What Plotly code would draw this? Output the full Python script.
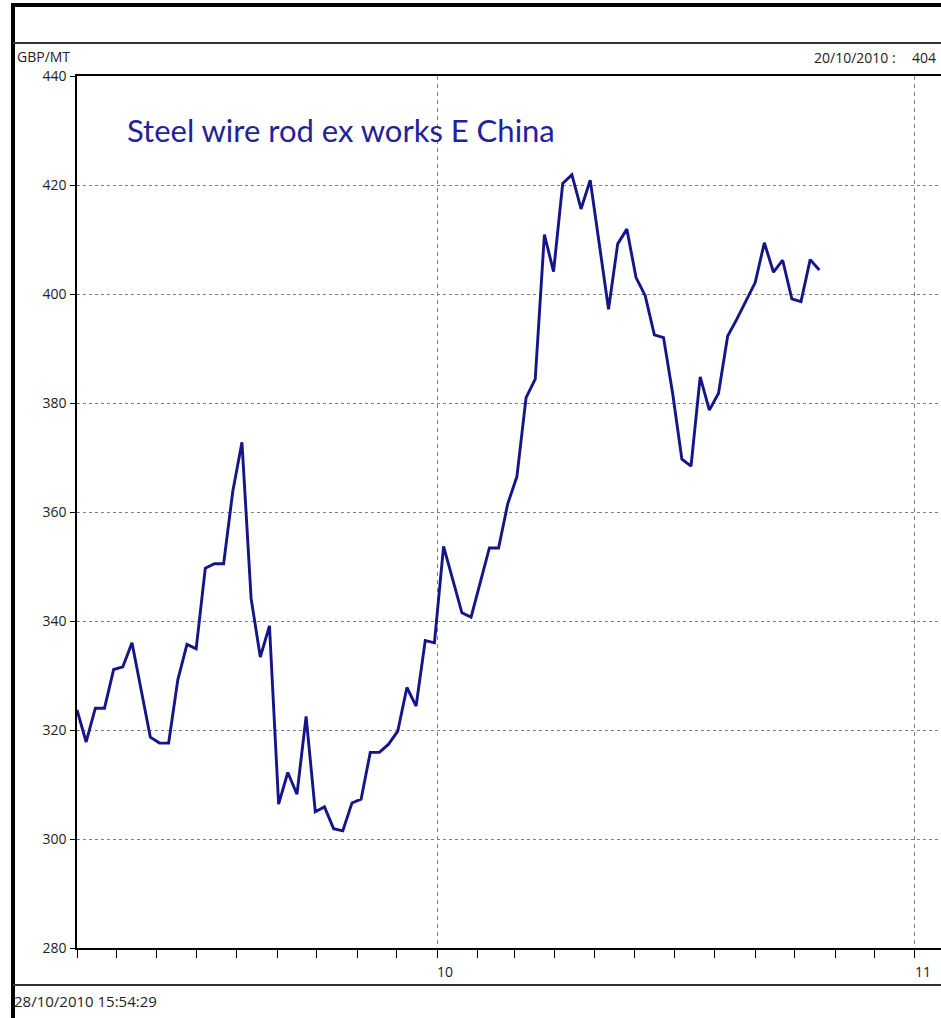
import plotly.graph_objects as go

# ---------------- data ----------------
dates = [
    "2009-04-01", "2009-04-08", "2009-04-15", "2009-04-22", "2009-04-29",
    "2009-05-06", "2009-05-13", "2009-05-27", "2009-06-03", "2009-06-10",
    "2009-06-17", "2009-06-24", "2009-07-01", "2009-07-08", "2009-07-15",
    "2009-07-22", "2009-07-29", "2009-08-05", "2009-08-12", "2009-08-19",
    "2009-08-26", "2009-09-02", "2009-09-09", "2009-09-16", "2009-09-23",
    "2009-09-30", "2009-10-07", "2009-10-14", "2009-10-21", "2009-10-28",
    "2009-11-04", "2009-11-11", "2009-11-18", "2009-11-25", "2009-12-02",
    "2009-12-09", "2009-12-16", "2009-12-23", "2009-12-30", "2010-01-06",
    "2010-01-20", "2010-01-27", "2010-02-10", "2010-02-17", "2010-02-24",
    "2010-03-03", "2010-03-10", "2010-03-17", "2010-03-24", "2010-03-31",
    "2010-04-07", "2010-04-14", "2010-04-21", "2010-04-28", "2010-05-12",
    "2010-05-19", "2010-05-26", "2010-06-02", "2010-06-09", "2010-06-16",
    "2010-06-23", "2010-06-30", "2010-07-07", "2010-07-14", "2010-07-21",
    "2010-07-28", "2010-08-04", "2010-08-11", "2010-08-18", "2010-08-25",
    "2010-09-01", "2010-09-08", "2010-09-15", "2010-09-22", "2010-09-29",
    "2010-10-06", "2010-10-13", "2010-10-20",
]
prices = [
    323.7, 317.8, 324.0, 324.0, 331.1,
    331.6, 336.0, 318.7, 317.6, 317.6,
    329.2, 335.7, 334.9, 349.7, 350.5,
    350.5, 363.8, 372.8, 344.1, 333.4,
    339.1, 306.4, 312.2, 308.2, 322.5,
    305.0, 305.9, 301.9, 301.5, 306.6,
    307.3, 315.9, 315.9, 317.4, 319.8,
    327.8, 324.4, 336.4, 336.0, 353.7,
    341.5, 340.7, 353.4, 353.4, 361.5,
    366.5, 381.0, 384.4, 410.9, 404.1,
    420.3, 421.9, 415.6, 420.9, 397.2,
    409.2, 411.9, 403.0, 399.7, 392.5,
    392.0, 381.7, 369.7, 368.4, 384.8,
    378.7, 381.8, 392.3, 395.4, 398.9,
    402.1, 409.4, 404.0, 406.2, 399.1,
    398.6, 406.3, 404.4,
]
y_ticks = [280, 300, 320, 340, 360, 380, 400, 420, 440]
year_tick_dates = ["2010-01-01", "2011-01-01"]
year_tick_labels = ["10", "11"]
x_range = ["2009-04-01", "2011-03-07"]

title_text = "Steel wire rod ex works E China"
unit_text = "GBP/MT"
last_date_text = "20/10/2010 :"
last_value_text = "404"
timestamp_text = "28/10/2010 15:54:29"

# ---------------- layout geometry (pixels) ----------------
# the figure is wider than the 941 px window, so the plot runs off
# the right edge as in the reference
W, H = 1000, 1018
ML, MR, MT, MB = 77, 0, 76, 70
PW, PH = W - ML - MR, H - MT - MB


def px(x):
    return (x - ML) / PW


def py(y):
    return (H - MB - y) / PH


LINE_COLOR = "#15158a"
TITLE_COLOR = "#22229a"
TXT = "#222222"
GRID = "#808080"

fig = go.Figure()
fig.add_trace(go.Scatter(
    x=dates, y=prices, mode="lines",
    line=dict(color=LINE_COLOR, width=2.9),
    hoverinfo="x+y", showlegend=False,
))

fig.update_layout(
    width=W, height=H,
    margin=dict(l=ML, r=MR, t=MT, b=MB, pad=0),
    paper_bgcolor="white", plot_bgcolor="white",
    font=dict(family="Open Sans", size=12, color=TXT),
    showlegend=False,
)

fig.update_xaxes(
    type="date", range=x_range,
    tickvals=year_tick_dates, ticktext=year_tick_labels,
    ticks="outside", ticklen=8, tickwidth=1, tickcolor="black",
    ticklabelshift=8, ticklabelstandoff=2,
    tickfont=dict(family="Open Sans", size=14, color=TXT),
    showgrid=True, gridcolor=GRID, griddash="4px,4px", gridwidth=1,
    showline=True, linecolor="black", linewidth=1.5, mirror=True,
    minor=dict(dtick="M1", tick0="2009-01-01", ticks="outside", ticklen=8,
               tickwidth=1, tickcolor="black", showgrid=False),
    zeroline=False,
)
fig.update_yaxes(
    range=[280, 440], tickvals=y_ticks,
    ticks="outside", ticklen=5, tickwidth=1, tickcolor="black",
    ticklabelstandoff=1,
    tickfont=dict(family="Open Sans", size=14, color=TXT),
    showgrid=True, gridcolor=GRID, griddash="3px,3px", gridwidth=1,
    showline=True, linecolor="black", linewidth=1.5, mirror=False,
    zeroline=False,
)

# frame lines
shapes = [
    dict(type="line", xref="paper", yref="paper", x0=px(13), x1=px(W + 5), y0=py(5), y1=py(5),
         line=dict(color="black", width=4)),
    dict(type="line", xref="paper", yref="paper", x0=px(13), y0=py(3), x1=px(13), y1=py(H + 5),
         line=dict(color="black", width=4)),
    dict(type="line", xref="paper", yref="paper", x0=px(13), x1=px(W + 5), y0=py(43), y1=py(43),
         line=dict(color="#333333", width=2)),
    dict(type="line", xref="paper", yref="paper", x0=px(13), x1=px(W + 5), y0=py(985), y1=py(985),
         line=dict(color="#333333", width=2)),
]
fig.update_layout(shapes=shapes)

annotations = [
    dict(text=title_text, xref="paper", yref="paper", x=px(125), y=py(130),
         xanchor="left", yanchor="middle", showarrow=False,
         font=dict(family="Lato", size=31, color=TITLE_COLOR)),
    dict(text=unit_text, xref="paper", yref="paper", x=px(15), y=py(57),
         xanchor="left", yanchor="middle", showarrow=False,
         font=dict(family="Open Sans", size=14, color=TXT)),
    dict(text=last_date_text, xref="paper", yref="paper", x=px(898), y=py(58),
         xanchor="right", yanchor="middle", showarrow=False,
         font=dict(family="Open Sans", size=14, color=TXT)),
    dict(text=last_value_text, xref="paper", yref="paper", x=px(910), y=py(58),
         xanchor="left", yanchor="middle", showarrow=False,
         font=dict(family="Open Sans", size=14, color=TXT)),
    dict(text=timestamp_text, xref="paper", yref="paper", x=px(12), y=py(1001),
         xanchor="left", yanchor="middle", showarrow=False,
         font=dict(family="Open Sans", size=15, color=TXT)),
]
fig.update_layout(annotations=annotations)

fig.write_html("out.html", config={"displayModeBar": False},
               post_script="document.body.style.margin='0';document.body.style.overflow='hidden';")
